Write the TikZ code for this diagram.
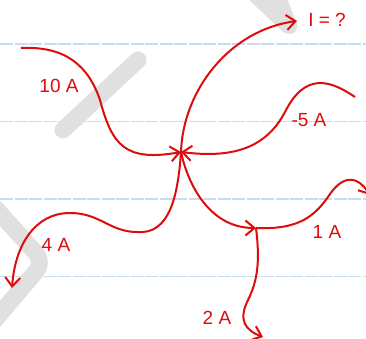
\documentclass[tikz,border=0pt]{standalone}
\usepackage{fontspec}
\setmainfont{Liberation Sans}
\usetikzlibrary{arrows.meta}
\definecolor{wire}{RGB}{222,12,12}
\definecolor{rulecol}{RGB}{200,220,240}
\definecolor{wmgrey}{RGB}{224,224,224}
\tikzset{
  wirestyle/.style={draw=wire, line width=2pt, -{Straight Barb[length=9pt,width=15pt,line width=2pt]}},
  lbl/.style={text=wire, font=\fontsize{19}{19}\selectfont, inner sep=0pt},
  ruleline/.style={draw=rulecol, line width=1.6pt, dash pattern=on 13pt off 1.5pt},
  watermark/.style={draw=wmgrey, line width=17pt, line cap=round, line join=round}
}
\begin{document}
\begin{tikzpicture}[x=1pt, y=-1pt]
\useasboundingbox (0,0) rectangle (366,339);
\fill[white] (0,0) rectangle (366,339);
% ruled lines
\foreach \yy in {44,121.5,199,276.5}
  \draw[ruleline] (0,\yy) -- (366,\yy);
% watermark fragments
\draw[watermark] (63,130) -- (138,60);
\draw[watermark, rounded corners=12pt] (-12,200) -- (44,262) -- (-12,328);
\fill[wmgrey] (248,-1) -- (280,29) .. controls (286,37) and (299,35) .. (297,24) -- (287,-1) -- cycle;
% points
\coordinate (c) at (181,152);
\coordinate (j) at (256,228);
\coordinate (a) at (21,48);
\coordinate (t) at (297,21);
\coordinate (e) at (355,97);
\coordinate (b) at (12,288);
\coordinate (r) at (370,195);
\coordinate (d) at (263,337);
% wires
\draw[wirestyle] (a) .. controls (65,46) and (88,65) .. (100,100)
  .. controls (112,145) and (125,162) .. (c);
\draw[wirestyle] (c) .. controls (183,90) and (230,30) .. (t);
\draw[wirestyle] (e) .. controls (330,80) and (305,72) .. (285,112)
  .. controls (265,150) and (230,158) .. (c);
\draw[wirestyle] (c) .. controls (178,195) and (170,235) .. (137,232)
  .. controls (110,232) and (100,213) .. (70,213)
  .. controls (35,213) and (15,245) .. (b);
\draw[wirestyle] (c) .. controls (188,185) and (210,228) .. (j);
\draw[wirestyle] (j) .. controls (300,230) and (315,215) .. (328,197)
  .. controls (340,178) and (355,172) .. (r);
\draw[wirestyle] (j) .. controls (260,260) and (258,280) .. (248,300)
  .. controls (238,320) and (245,330) .. (d);
% labels
\node[lbl] (l10) at (59,86) {10 A};
\node[lbl] (lI) at (327,20) {I = ?};
\node[lbl] (l5) at (309,120) {-5 A};
\node[lbl] (l4) at (56,245) {4 A};
\node[lbl] (l1) at (327,232) {1 A};
\node[lbl] (l2) at (217,318) {2 A};
\end{tikzpicture}
\end{document}
